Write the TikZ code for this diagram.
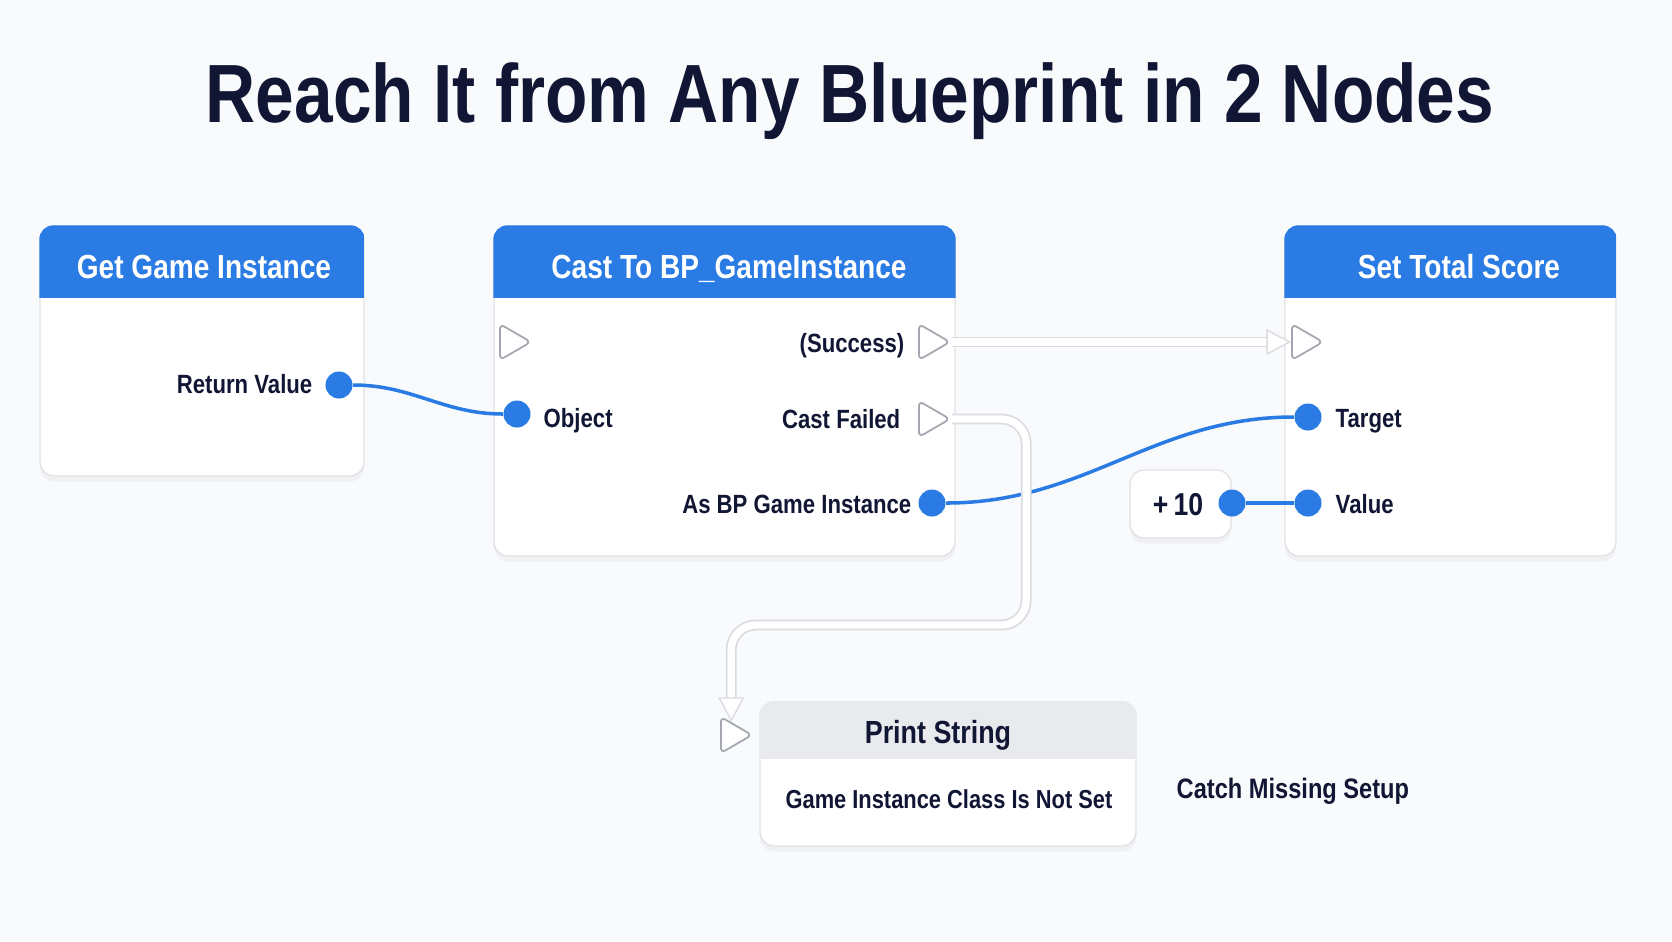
\documentclass[tikz,border=0pt]{standalone}
\usepackage{fontspec}
\setmainfont{Liberation Sans}[FakeStretch=0.84]
\usetikzlibrary{arrows.meta,positioning,shadows,shapes.geometric,fit,calc}

\definecolor{bpblue}{HTML}{2A7BE4}
\definecolor{ink}{HTML}{111634}
\definecolor{rim}{HTML}{E0E2E6}
\definecolor{piperim}{HTML}{DADCE1}
\definecolor{pinrim}{HTML}{A3A7AF}
\definecolor{paper}{HTML}{F9FAFB}
\definecolor{headgray}{HTML}{E9EAED}

\begin{document}
\begin{tikzpicture}[x=0.01cm,y=-0.01cm]

\tikzset{bpnode/.style = {draw=rim, fill=white, rounded corners=4pt, inner sep=0pt,
    drop shadow={shadow xshift=0pt, shadow yshift=-1.6pt, opacity=0.07}}}
\tikzset{headtext/.style = {text=white, inner sep=0pt, anchor=base, font=\bfseries\fontsize{9.5}{11}\selectfont}}
\tikzset{pintext/.style = {text=ink, inner sep=0pt, font=\bfseries\fontsize{7.5}{9}\selectfont}}
\tikzset{datapin/.style = {circle, fill=bpblue, minimum size=0.27cm, inner sep=0pt}}
\tikzset{execpin/.style = {isosceles triangle, isosceles triangle stretches, draw=pinrim, fill=white,
    line width=0.5pt, minimum width=0.36cm, minimum height=0.31cm, inner sep=0pt,
    rounded corners=1.5pt, anchor=lower side}}
\tikzset{wire/.style = {bpblue, line width=1pt}}
\tikzset{pipe/.style = {draw=piperim, line width=0.5pt, double=white, double distance=2.1pt,
    rounded corners=7pt, -{Triangle[length=7pt, width=7.4pt, fill=white, line width=0.4pt]}}}

% canvas
\fill[paper] (0,0) rectangle (1672,941);
\useasboundingbox (0,0) rectangle (1672,941);

\node[text=ink, inner sep=0pt, anchor=base, font=\bfseries\fontsize{23.5}{28}\selectfont]
  (title) at (850,122) {Reach It from Any Blueprint in 2 Nodes};

% blueprint nodes
\node[bpnode, fit={(40,226) (364,476)}] (get) {};
\node[bpnode, fit={(494,226) (955,556)}] (cast) {};
\node[bpnode, fit={(1285,226) (1616,556)}] (set) {};
\node[bpnode, fit={(1130,470) (1231,538)}] (plusten) {};
\node[bpnode, fit={(760,702) (1136,846)}] (print) {};

% headers
\foreach \n in {get,cast,set}{
  \begin{scope}
    \clip[rounded corners=4pt] (\n.north west) rectangle (\n.south east);
    \fill[bpblue] (\n.north west) rectangle (\n.east |- 0,298);
  \end{scope}}
\begin{scope}
  \clip[rounded corners=4pt] (print.north west) rectangle (print.south east);
  \fill[headgray] (print.north west) rectangle (print.east |- 0,759);
\end{scope}

\node[headtext] (gettitle) at (204,278) {Get Game Instance};
\node[headtext] (casttitle) at (729,278) {Cast To BP\_GameInstance};
\node[headtext] (settitle) at (1459,278) {Set Total Score};
\node[headtext, text=ink, font=\bfseries\fontsize{9.1}{11}\selectfont] (printtitle) at (938,743) {Print String};

% pins
\node[datapin] (retval) at (339,385) {};
\node[pintext, anchor=base east] (retlbl) at (313,393) {Return Value};

\node[execpin] (castin) at (499,342) {};
\node[datapin] (object) at (517,414) {};
\node[pintext, anchor=base west] (objlbl) at (543,427) {Object};
\node[execpin] (success) at (918,342) {};
\node[pintext, anchor=base east] (succlbl) at (905,352) {(Success)};
\node[execpin] (fail) at (918,419) {};
\node[pintext, anchor=base east] (faillbl) at (901,428) {Cast Failed};
\node[datapin] (asbp) at (932,503) {};
\node[pintext, anchor=base east] (asbplbl) at (912,513) {As BP Game Instance};

\node[execpin] (setin) at (1291,342) {};
\node[datapin] (target) at (1308,417) {};
\node[pintext, anchor=base west] (targetlbl) at (1335,427) {Target};
\node[datapin] (value) at (1308,503) {};
\node[pintext, anchor=base west] (valuelbl) at (1335,513) {Value};

\node[pintext, anchor=base, font=\bfseries\fontsize{9}{11}\selectfont] (tenlbl) at (1178,515) {+\,10};
\node[datapin] (tendot) at (1232,503) {};

\node[execpin] (printin) at (720,735) {};
\node[pintext, anchor=base, font=\bfseries\fontsize{7.4}{9}\selectfont] (msg) at (949,808) {Game Instance Class Is Not Set};
\node[pintext, anchor=base west, font=\bfseries\fontsize{8}{10}\selectfont] (note) at (1176,798) {Catch Missing Setup};

% wires
\draw[wire] (retval) to[out=0,in=180] (object);
\draw[wire] (asbp) to[out=0,in=180] (target);
\draw[wire] (tendot) -- (value);

% exec pipes
\draw[pipe] (success.apex) -- (setin.lower side);
\draw[pipe] (fail.apex) -- ++(74,0) -- ++(0,206) -| (printin.north);

\end{tikzpicture}
\end{document}
